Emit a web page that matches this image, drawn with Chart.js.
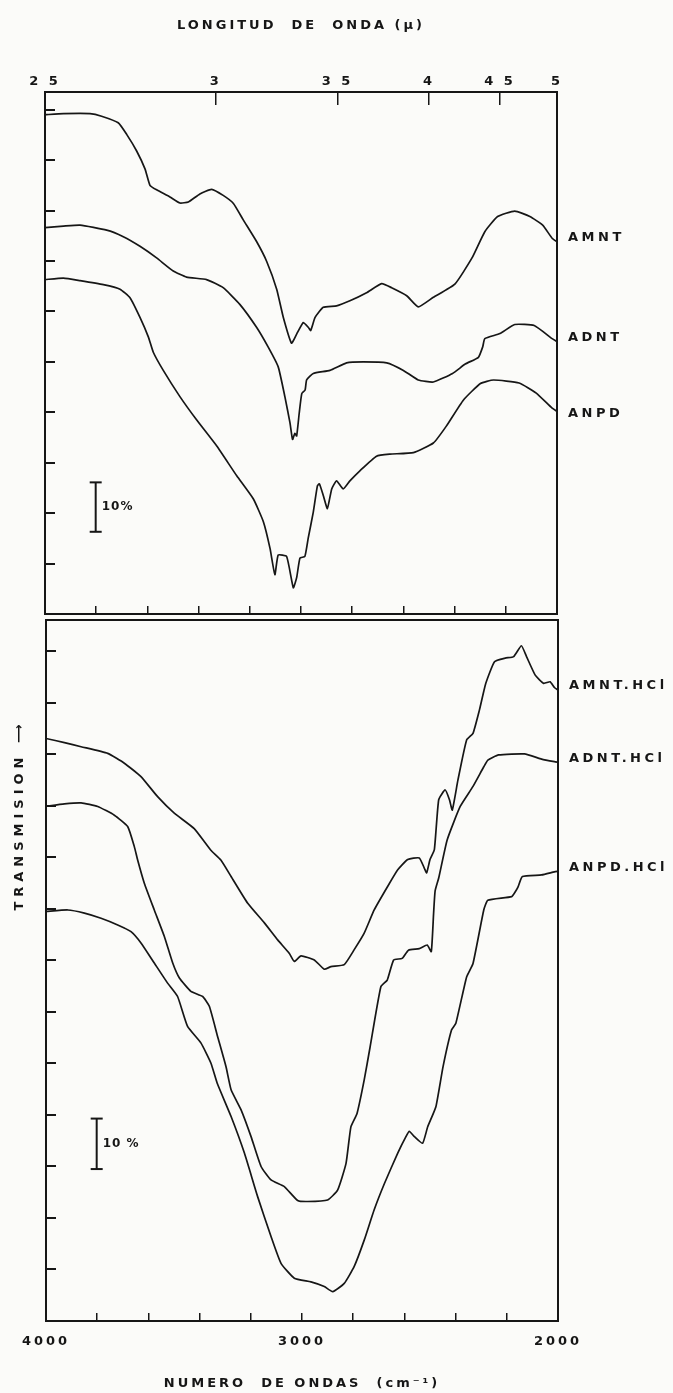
<!DOCTYPE html>
<html>
<head>
<meta charset="utf-8">
<script src="https://cdn.jsdelivr.net/npm/chart.js@4.4.0/dist/chart.umd.min.js"></script>
<style>
  html, body { margin: 0; padding: 0; background: #fbfbf9; }
  body { width: 673px; height: 1393px; position: relative; overflow: hidden; }
  #boxTop { position: absolute; left: 0; top: 0; width: 673px; height: 622px; }
  #boxBot { position: absolute; left: 0; top: 600px; width: 673px; height: 793px; }
  #ylab {
    position: absolute; left: -95px; top: 806px; width: 230px; height: 18px;
    transform: rotate(-90deg); text-align: center; white-space: nowrap;
    font: bold 13px 'DejaVu Sans', sans-serif; letter-spacing: 5px; color: #161616;
  }
</style>
</head>
<body>
<div id="boxTop"><canvas id="chartTop"></canvas></div>
<div id="boxBot"><canvas id="chartBot"></canvas></div>
<div id="ylab">TRANSMISION &#x27F6;</div>
<script>
// espectros IR, transmision (%) frente a numero de ondas (cm-1)
const amntWn = [4000,3928,3824,3779,3714,3681,3642,3609,3590,3564,3512,3473,3440,3395,3349,3304,3264,3225,3173,3134,3095,3069,3037,3017,2991,2971,2962,2945,2913,2861,2809,2744,2685,2646,2587,2542,2483,2399,2332,2282,2232,2165,2106,2056,2019,2000];
const amntT  = [99.0,99.2,99.2,98.7,97.4,95.1,91.8,88.2,85.0,84.1,82.7,81.5,81.7,83.3,84.2,83.0,81.4,78.1,73.8,69.9,64.4,58.8,53.7,55.5,57.8,56.8,56.2,58.8,60.8,61.1,62.1,63.7,65.5,64.7,63.1,60.9,62.8,65.4,70.6,75.8,78.8,79.9,78.8,77.1,74.5,73.8];

const adntWn = [4000,3928,3863,3759,3694,3629,3564,3499,3447,3369,3304,3239,3173,3128,3089,3063,3043,3033,3024,3017,3007,2997,2984,2978,2952,2887,2822,2757,2665,2600,2542,2483,2408,2357,2307,2290,2282,2223,2165,2089,2019,2000];
const adntT  = [76.6,76.9,77.1,76.1,74.8,72.9,70.6,68.0,66.8,66.3,64.7,61.4,56.8,52.9,49.0,43.1,37.9,34.6,35.8,35.3,39.8,43.7,44.4,46.4,47.7,48.3,49.8,50.0,49.8,48.3,46.4,46.0,47.7,49.6,50.9,53.0,54.6,55.6,57.4,57.2,54.6,54.0];

const anpdWn = [4000,3928,3863,3772,3707,3668,3629,3596,3577,3538,3473,3408,3329,3251,3186,3147,3121,3102,3089,3056,3030,3017,3004,2985,2972,2952,2936,2928,2913,2897,2880,2861,2835,2809,2770,2705,2653,2561,2483,2433,2366,2299,2248,2148,2081,2019,2000];
const anpdT  = [66.3,66.6,66.1,65.3,64.4,62.7,58.8,54.9,51.9,48.3,43.1,38.5,33.3,27.4,22.8,18.3,13.0,7.8,11.7,11.4,5.2,7.2,11.1,11.4,15.0,20.2,25.4,25.8,23.5,20.9,24.8,26.4,24.8,26.4,28.4,31.3,31.7,32.0,33.9,37.2,42.4,45.7,46.4,45.8,43.8,40.8,40.2];

const amntHclWn = [4000,3928,3863,3759,3694,3629,3564,3499,3421,3356,3317,3277,3212,3147,3095,3050,3030,3004,2952,2913,2887,2835,2796,2757,2718,2665,2626,2587,2542,2522,2513,2500,2483,2466,2441,2424,2413,2391,2357,2332,2307,2282,2248,2206,2173,2143,2123,2089,2056,2031,2014,2000];
const amntHclT  = [113.1,112.3,111.5,110.2,108.3,105.7,101.8,98.6,95.6,91.4,89.5,86.3,81.1,77.3,74.0,71.4,69.8,70.9,70.1,68.3,68.8,69.2,72.1,75.3,79.8,84.4,87.6,89.6,89.9,87.9,87.0,89.6,91.5,101.2,103.1,101.2,99.2,105.0,112.8,114.1,118.6,123.8,128.0,128.7,129.0,131.1,129.0,125.4,123.8,124.1,123.0,122.5];

const adntHclWn = [4000,3928,3863,3798,3733,3681,3655,3642,3616,3577,3538,3505,3479,3434,3388,3362,3330,3297,3277,3238,3199,3160,3121,3069,3017,2978,2900,2861,2828,2809,2785,2757,2734,2692,2667,2642,2609,2584,2542,2511,2495,2486,2480,2466,2433,2382,2332,2290,2274,2232,2131,2064,2014,2000];
const adntHclT  = [99.9,100.4,100.6,99.9,98.2,96.0,92.1,89.5,85.0,79.8,74.7,69.5,66.6,64.0,63.0,61.1,55.3,49.4,44.9,41.0,35.8,30.0,27.4,26.1,23.4,23.2,23.5,25.4,30.6,37.7,40.3,46.8,53.2,64.9,66.2,70.1,70.4,72.0,72.3,73.0,71.7,79.1,83.5,86.0,93.4,99.9,103.8,107.6,108.9,109.9,110.1,109.1,108.6,108.5];

const anpdHclWn = [4000,3915,3850,3785,3720,3668,3629,3577,3525,3486,3447,3395,3356,3330,3277,3225,3173,3121,3082,3030,2965,2913,2880,2835,2796,2757,2718,2678,2626,2594,2581,2561,2529,2509,2477,2449,2416,2399,2357,2332,2290,2274,2181,2165,2156,2139,2064,2014,2000];
const anpdHclT  = [79.5,79.8,79.2,78.2,76.9,75.6,73.4,69.5,65.6,63.0,57.2,54.0,50.1,46.0,39.7,32.6,24.1,16.4,11.2,8.3,7.6,6.7,5.7,7.3,10.6,15.7,21.6,26.7,32.6,35.8,36.8,35.8,34.5,37.7,41.6,49.4,56.5,57.8,66.8,69.4,79.8,81.7,82.4,83.5,84.3,86.3,86.6,87.2,87.3];

// ejes
const micronValues = [2.5, 3, 3.5, 4, 4.5, 5];
const micronLabels = ['2 5', '3', '3 5', '4', '4 5', '5'];
const wnTicks = [4000,3800,3600,3400,3200,3000,2800,2600,2400,2200,2000];
const wnLabels = [4000, 3000, 2000];
const yTicksTop = [10,20,30,40,50,60,70,80,90,100];
const yTicksBot = [10,20,30,40,50,60,70,80,90,100,110,120,130];

// barras de escala 10 %
const barTop = [16.3, 26.1];
const barBot = [29.5, 39.3];
const barWn = 3802;

const ink = '#161616';
const FONT = "'DejaVu Sans', sans-serif";

function pts(wn, t) { return wn.map((w, i) => ({ x: w, y: t[i] })); }

function curve(wn, t) {
    return { data: pts(wn, t), borderColor: ink, borderWidth: 1.7, pointRadius: 0, tension: 0.15, fill: false };
}

function scaleBar(vals) {
    return {
        data: vals.map(v => ({ x: barWn, y: v })),
        borderColor: ink, borderWidth: 2,
        pointStyle: 'line', pointRadius: 6, pointBorderWidth: 2, pointBorderColor: ink
    };
}

// etiquetas a la derecha de cada curva y texto del 10 %
function makeLabels(names, shifts, barVals, barText) {
    return {
        id: 'labels',
        beforeDraw(chart) { chart.ctx.letterSpacing = '3px'; },
        afterDatasetsDraw(chart) {
            const { ctx, chartArea, scales } = chart;
            ctx.save();
            ctx.fillStyle = ink;
            ctx.textBaseline = 'middle';
            ctx.textAlign = 'left';
            ctx.font = 'bold 13px ' + FONT;
            ctx.letterSpacing = '3.5px';
            names.forEach((n, i) => {
                const d = chart.data.datasets[i].data;
                ctx.fillText(n, chartArea.right + 11, scales.y.getPixelForValue(d[d.length - 1].y) + shifts[i]);
            });
            ctx.font = 'bold 12px ' + FONT;
            ctx.letterSpacing = '1px';
            ctx.fillText(barText, scales.x.getPixelForValue(barWn) + 6,
                scales.y.getPixelForValue((barVals[0] + barVals[1]) / 2));
            ctx.restore();
        }
    };
}

const tickFont = { family: FONT, size: 13, weight: 'bold' };

function frame(pos) {
    return {
        type: 'linear', position: pos, min: 0, max: 1,
        ticks: { display: false }, grid: { display: false },
        border: { display: true, color: ink, width: 2 },
        afterFit(s) { if (pos === 'left' || pos === 'right') s.width = 0; else s.height = 0; }
    };
}

function yAxis(max, ticks, w) {
    return {
        type: 'linear', position: 'left', min: 0, max: max,
        afterBuildTicks(s) { s.ticks = ticks.map(v => ({ value: v })); },
        ticks: { display: false },
        grid: { drawOnChartArea: false, tickLength: -10, color: ink, lineWidth: 2 },
        border: { display: true, color: ink, width: 2 },
        afterFit(s) { s.width = w; }
    };
}

const common = {
    responsive: true,
    maintainAspectRatio: false,
    animation: false,
    events: [],
    plugins: { legend: { display: false }, tooltip: { enabled: false } }
};

new Chart(document.getElementById('chartTop'), {
    type: 'line',
    data: {
        datasets: [curve(amntWn, amntT), curve(adntWn, adntT), curve(anpdWn, anpdT), scaleBar(barTop)]
    },
    options: {
        ...common,
        layout: { padding: { left: 0, right: 116, top: 0, bottom: 0 } },
        scales: {
            x: {
                type: 'linear', position: 'bottom', reverse: true, min: 2000, max: 4000,
                afterBuildTicks(s) { s.ticks = wnTicks.map(v => ({ value: v })); },
                ticks: { display: false },
                grid: { drawOnChartArea: false, tickLength: -8, color: ink, lineWidth: 1.5 },
                border: { display: true, color: ink, width: 2 },
                afterFit(s) { s.height = 2; }
            },
            xTop: {
                type: 'linear', position: 'top', reverse: true, min: 2000, max: 4000,
                afterBuildTicks(s) { s.ticks = micronValues.map(m => ({ value: 10000 / m })); },
                ticks: {
                    color: ink, font: tickFont, padding: 16, autoSkip: false, maxRotation: 0,
                    callback: (v, i) => micronLabels[i]
                },
                grid: { drawOnChartArea: false, tickLength: -13, color: ink, lineWidth: 1.5 },
                border: { display: true, color: ink, width: 2 },
                title: {
                    display: true, text: 'LONGITUD  DE  ONDA (\u00b5)', color: ink,
                    font: tickFont, padding: { top: 18, bottom: 0 }
                },
                afterFit(s) { s.height = 92; }
            },
            y: yAxis(103.5, yTicksTop, 45),
            yR: frame('right')
        }
    },
    plugins: [makeLabels(['AMNT', 'ADNT', 'ANPD'], [-4, -4, 2], barTop, '10%')]
});

new Chart(document.getElementById('chartBot'), {
    type: 'line',
    data: {
        datasets: [curve(amntHclWn, amntHclT), curve(adntHclWn, adntHclT), curve(anpdHclWn, anpdHclT), scaleBar(barBot)]
    },
    options: {
        ...common,
        layout: { padding: { left: 0, right: 115, top: 20, bottom: 0 } },
        scales: {
            x: {
                type: 'linear', position: 'bottom', reverse: true, min: 2000, max: 4000,
                afterBuildTicks(s) { s.ticks = wnTicks.map(v => ({ value: v })); },
                ticks: {
                    color: ink, font: tickFont, padding: 21, autoSkip: false, maxRotation: 0,
                    callback: v => wnLabels.includes(v) ? String(v) : ''
                },
                grid: { drawOnChartArea: false, tickLength: -8, color: ink, lineWidth: 1.5 },
                border: { display: true, color: ink, width: 2 },
                title: {
                    display: true, text: 'NUMERO  DE ONDAS  (cm\u207b\u00b9)', color: ink,
                    font: tickFont, padding: { top: 0, bottom: 2 }
                },
                afterFit(s) { s.height = 72; }
            },
            xT: frame('top'),
            y: yAxis(136.1, yTicksBot, 46),
            yR: frame('right')
        }
    },
    plugins: [makeLabels(['AMNT.HCl', 'ADNT.HCl', 'ANPD.HCl'], [-4, -4, -4], barBot, '10 %')]
});
</script>
</body>
</html>
